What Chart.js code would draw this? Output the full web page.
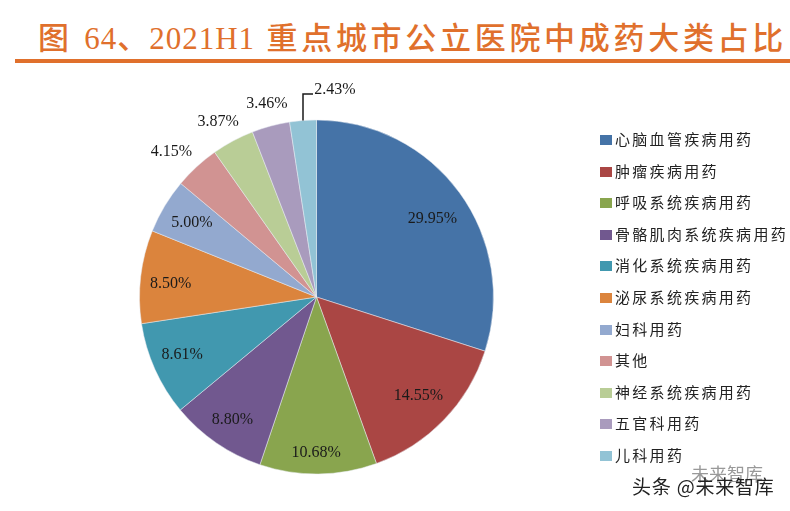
<!DOCTYPE html>
<html>
<head>
<meta charset="utf-8">
<script src="https://cdn.jsdelivr.net/npm/chart.js@4"></script>
<style>
  html, body { margin: 0; padding: 0; background: #fff; }
  #wrap { position: relative; width: 790px; height: 511px; overflow: hidden; }
  #title { position: absolute; left: 38px; top: 13px; white-space: nowrap; color: #e0702c;
           font: 500 31px "Liberation Serif", "Noto Sans CJK SC", serif; letter-spacing: 3.7px; }
  #title span { letter-spacing: 1px; }
  #rule { position: absolute; left: 15px; top: 59px; width: 775px; height: 4px; background: #e0702c; }
  #box { position: absolute; left: 0; top: 66px; width: 790px; height: 445px; }
  #legend { position: absolute; left: 600px; top: 123px; white-space: nowrap; }
  .item { height: 31.6px; line-height: 31.6px; font: 15px/31.6px "Noto Sans CJK SC", sans-serif;
          letter-spacing: 2.3px; color: #222; padding-left: 15px; position: relative; }
  .item i { position: absolute; left: 0; top: 12px; width: 12px; height: 10px; }
  #ghost { position: absolute; left: 691px; top: 460px; color: #999; font: 18px "Noto Sans CJK SC", sans-serif; }
  #mark { position: absolute; left: 632px; top: 472px; color: #222; letter-spacing: 0.8px;
          font: 19px "Noto Sans CJK SC", sans-serif; }
</style>
</head>
<body>
<div id="wrap">
  <div id="title">图 <span>64、2021H1</span> 重点城市公立医院中成药大类占比</div>
  <div id="rule"></div>
  <div id="box"><canvas id="pieChart"></canvas></div>
  <div id="legend"></div>
  <div id="ghost">未来智库</div>
  <div id="mark">头条 @未来智库</div>
</div>
<script>
const categories = ["心脑血管疾病用药", "肿瘤疾病用药", "呼吸系统疾病用药", "骨骼肌肉系统疾病用药", "消化系统疾病用药", "泌尿系统疾病用药", "妇科用药", "其他", "神经系统疾病用药", "五官科用药", "儿科用药"];
const shares = [29.95, 14.55, 10.68, 8.80, 8.61, 8.50, 5.00, 4.15, 3.87, 3.46, 2.43];
const colors = ["#4573a7", "#aa4644", "#89a54e", "#71588f", "#4198af", "#db843d", "#93a9cf", "#d19392", "#b9cd96", "#a99bbd", "#92c3d5"];
// radial position of each label, as a fraction of the radius
const labelRadius = [0.79, 0.80, 0.87, 0.84, 0.82, 0.83, 0.82, 1.17, 1.14, 1.13, 1.2];
// hand nudges for labels that don't sit exactly on the slice's mid line
const labelNudgeX = [3, 0, -2, 0, -2, 0, 0, -5, -3, 2, 0];
const labelNudgeY = [4, 0, 2, 0, -2, 4, 0, 7, 3, 0, 1];

// legend rows, spaced like the original
document.getElementById("legend").innerHTML = categories.map((c, i) => `
  <div class="item"><i style="background:${colors[i]}"></i>${c}</div>
`).join("");

// percent labels + the small elbow line for the last slice
const sliceLabels = {
  id: "sliceLabels",
  afterDraw(chart) {
    const ctx = chart.ctx;
    ctx.save();
    ctx.font = '16px "Liberation Serif", serif';
    ctx.fillStyle = "#1a1a1a";
    ctx.textAlign = "center";
    ctx.textBaseline = "middle";
    chart.getDatasetMeta(0).data.forEach((arc, i) => {
      const mid = (arc.startAngle + arc.endAngle) / 2;
      let x = arc.x + Math.cos(mid) * arc.outerRadius * labelRadius[i];
      let y = arc.y + Math.sin(mid) * arc.outerRadius * labelRadius[i];
      if (i === shares.length - 1) {
        // pulled up and to the right, joined back to the slice
        const ex = arc.x + Math.cos(mid) * arc.outerRadius;
        const ey = arc.y + Math.sin(mid) * arc.outerRadius;
        x = ex + 32; y = ey - 32;
        ctx.strokeStyle = "#1a1a1a";
        ctx.lineWidth = 1.5;
        ctx.beginPath();
        ctx.moveTo(ex, ey);
        ctx.lineTo(ex, ey - 26.5);
        ctx.lineTo(ex + 10, ey - 26.5);
        ctx.stroke();
      }
      ctx.fillText(shares[i].toFixed(2) + "%", x + labelNudgeX[i], y + labelNudgeY[i]);
    });
    ctx.restore();
  },
};

new Chart(document.getElementById("pieChart").getContext("2d"), {
  type: "pie",
  data: {
    labels: categories,
    datasets: [{
      data: shares,
      backgroundColor: colors,
      borderColor: "#e8edf2",
      borderWidth: 0.5,
    }],
  },
  options: {
    responsive: true,
    maintainAspectRatio: false,
    animation: false,
    radius: 177,
    layout: { padding: { left: 0, top: 17, bottom: 0, right: 157 } },
    plugins: {
      tooltip: { enabled: false },
      legend: { display: false },
    },
  },
  plugins: [sliceLabels],
});
</script>
</body>
</html>
